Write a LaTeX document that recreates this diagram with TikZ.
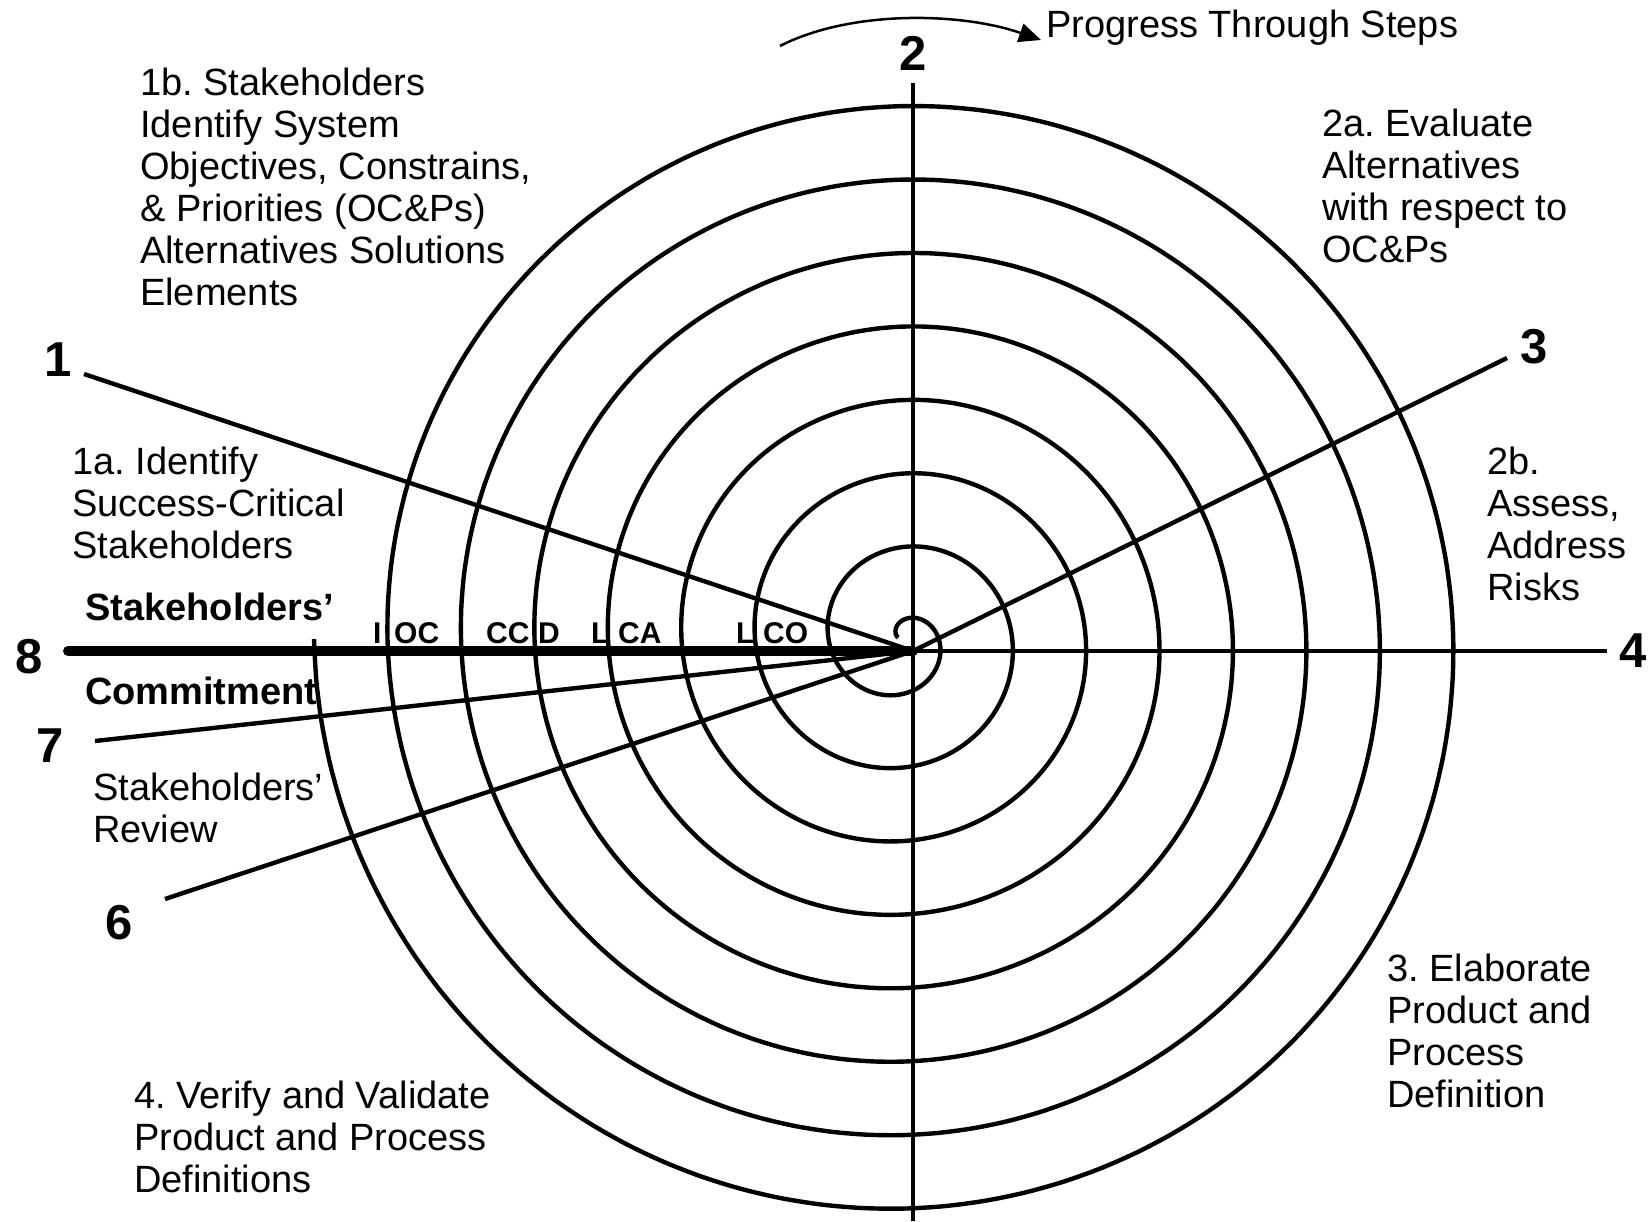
\documentclass[tikz,border=0pt]{standalone}
\usepackage{fontspec}
\setmainfont{Liberation Sans}
\usetikzlibrary{arrows.meta}
\frenchspacing
\begin{document}
\begin{tikzpicture}[x=1pt,y=-1pt,
  txt/.style={font=\fontsize{38}{42}\selectfont, align=left, inner sep=0pt, anchor=north west},
  boldtxt/.style={txt, font=\fontsize{38}{42}\selectfont\bfseries},
  stepnum/.style={font=\fontsize{49}{52}\selectfont\bfseries, inner sep=0pt},
  milestone/.style={font=\fontsize{30}{32}\selectfont\bfseries, inner sep=0pt, anchor=base west},
  ray/.style={line width=4.4pt},
  commit/.style={line width=10pt, line cap=round},
  progress/.style={line width=2.5pt, -{Triangle[length=22pt,width=19pt]}}
]
\useasboundingbox (0,0) rectangle (1652,1221);

% centre of the step rays and ray end points
\coordinate (O) at (913,651);
\coordinate (e1) at (84,374);
\coordinate (e2) at (913,83);
\coordinate (e3) at (1507,358);
\coordinate (e4) at (1607,651);
\coordinate (e5) at (913,1221);
\coordinate (e6) at (165,899);
\coordinate (e7) at (95,741);
\coordinate (e8) at (68,651);

% stakeholders' commitment line
\draw[commit] (e8) -- (O);

% step rays
\draw[ray] (e2) -- (e5);
\draw[ray] (O) -- (e4);
\draw[ray] (e1) -- (O);
\draw[ray] (O) -- (e3);
\draw[ray] (e6) -- (O);
\draw[ray] (e7) -- (O);

% the spiral, winding outwards clockwise
\draw[ray] plot[variable=\t, domain=20:2880, samples=700, smooth]
  ({902-0.2041667*\t*cos(\t)}, {639-0.2041667*\t*sin(\t)});

% step numbers
\node[stepnum] (n1) at (58,360) {1};
\node[stepnum] (n2) at (913,53) {2};
\node[stepnum] (n3) at (1534,347) {3};
\node[stepnum] (n4) at (1633,651) {4};
\node[stepnum] (n6) at (119,923) {6};
\node[stepnum] (n7) at (50,746) {7};
\node[stepnum] (n8) at (29,657) {8};

% progress arrow
\coordinate (pa) at (780,46);
\coordinate (pb) at (1041,40);
\draw[progress] (pa) .. controls (850,10) and (960,12) .. (pb);
\node[inner sep=0pt, anchor=base west, font=\fontsize{38}{42}\selectfont] (prog) at (1046,37) {Progress Through Steps};

% step descriptions
\node[txt] (t1b) at (140,68) {1b. Stakeholders\\Identify System\\Objectives, Constrains,\\\& Priorities (OC\&Ps)\\Alternatives Solutions\\Elements};
\node[txt] (t2a) at (1322,109) {2a. Evaluate\\Alternatives\\with respect to\\OC\&Ps};
\node[txt] (t1a) at (72,447) {1a. Identify\\Success-Critical\\Stakeholders};
\node[txt] (t2b) at (1487,447) {2b.\\Assess,\\Address\\Risks};
\node[boldtxt] (t8a) at (85,593) {Stakeholders’};
\node[boldtxt] (t8b) at (85,677) {Commitment};
\node[txt] (t7) at (93,773) {Stakeholders’\\Review};
\node[txt] (t3) at (1387,954) {3. Elaborate\\Product and\\Process\\Definition};
\node[txt] (t4) at (134,1081) {4. Verify and Validate\\Product and Process\\Definitions};

% anchor-point milestones
\node[milestone] (m1) at (373,643) {I};
\node[milestone] (m2) at (394,643) {OC};
\node[milestone] (m3) at (486,643) {CC};
\node[milestone] (m4) at (538,643) {D};
\node[milestone] (m5) at (591,643) {L};
\node[milestone] (m6) at (618,643) {CA};
\node[milestone] (m7) at (736,643) {L};
\node[milestone] (m8) at (763,643) {CO};
\end{tikzpicture}
\end{document}
